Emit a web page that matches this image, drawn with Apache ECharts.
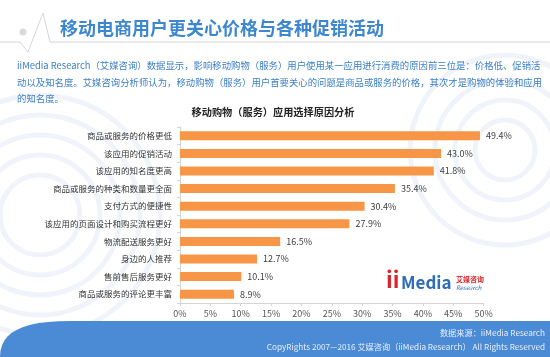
<!DOCTYPE html>
<html><head><meta charset="utf-8">
<script src="https://cdn.jsdelivr.net/npm/echarts@6/dist/echarts.min.js"></script>
<style>html,body{margin:0;padding:0;background:#fff}#c{width:550px;height:357px}</style>
</head><body><div id="c"></div>
<script>
const categories = ['商品或服务的价格更低','该应用的促销活动','该应用的知名度更高','商品或服务的种类和数量更全面','支付方式的便捷性','该应用的页面设计和购买流程更好','物流配送服务更好','身边的人推荐','售前售后服务更好','商品或服务的评论更丰富'];
const values = [49.4, 43.0, 41.8, 35.4, 30.4, 27.9, 16.5, 12.7, 10.1, 8.9];
const xTickValues = [0,5,10,15,20,25,30,35,40,45,50];
const pageTitle = '移动电商用户更关心价格与各种促销活动';
const introLines = ['iiMedia Research（艾媒咨询）数据显示，影响移动购物（服务）用户使用某一应用进行消费的原因前三位是：价格低、促销活','动以及知名度。艾媒咨询分析师认为，移动购物（服务）用户首要关心的问题是商品或服务的价格，其次才是购物的体验和应用','的知名度。'];
const chartTitle = '移动购物（服务）应用选择原因分析';
const footerLines = ['数据来源：iiMedia Research','CopyRights 2007—2016 艾媒咨询（iiMedia Research） All Rights Reserved'];

const FONT = '"Noto Sans CJK SC", "Microsoft YaHei", sans-serif';
const chart = echarts.init(document.getElementById('c'));

const bgCircles = [];
[[40,215,[40,60,80,100,120]],[505,150,[30,50,70,95]]].forEach(([cx,cy,rs])=>{
  rs.forEach(r=>bgCircles.push({type:'circle',silent:true,z:-10,shape:{cx,cy,r},style:{fill:null,stroke:'rgba(200,216,238,0.28)',lineWidth:5}}));
});

// footer band outline (decorative)
const footerPts = [[0,357]];
for(let i=0;i<=12;i++){const t=i/12,u=1-t;
  footerPts.push([3*u*t*t*22+t*t*t*70, u*u*u*357+3*u*u*t*332+3*u*t*t*321+t*t*t*321]);}
footerPts.push([550,321],[550,357]);

chart.setOption({
  animation:false,
  textStyle:{fontFamily:FONT},
  grid:{left:180,right:66.4,top:127,bottom:54,containLabel:false},
  xAxis:{type:'value',min:0,max:50,interval:5,
    axisLine:{show:true,lineStyle:{color:'#d4d4d4'}},
    axisTick:{show:true,length:3,lineStyle:{color:'#d4d4d4'}},
    splitLine:{show:false},
    axisLabel:{fontSize:9,color:'#555',margin:6,fontFamily:FONT,
      formatter:v=>xTickValues.includes(v)?v+'%':''}},
  yAxis:{type:'category',data:categories,inverse:true,
    axisLine:{show:true,lineStyle:{color:'#d4d4d4'}},
    axisTick:{show:true,length:3,lineStyle:{color:'#d4d4d4'}},
    axisLabel:{fontSize:8.5,color:'#333',margin:8,fontFamily:FONT}},
  series:[{type:'bar',data:values,barWidth:9,itemStyle:{color:'#f79646'},
    label:{show:true,position:'right',distance:6,fontSize:9,color:'#404040',fontFamily:FONT,
      formatter:p=>p.value.toFixed(1)+'%'}}],
  graphic:[
    ...bgCircles,
    {type:'polyline',silent:true,shape:{points:[[0,42],[20,42],[28,52],[43,13],[50,42],[550,42]]},style:{stroke:'#d2d6da',lineWidth:1,fill:null}},
    {type:'circle',silent:true,shape:{cx:23,cy:32,r:3.5},style:{fill:'#d8dadc'}},
    {type:'text',x:60,y:19,style:{text:pageTitle,font:'bold 18px '+FONT,fill:'#3d87cf'}},
    ...introLines.map((t,i)=>({type:'text',x:17,y:61+i*16.6,style:{text:t,font:'9.4px '+FONT,fill:'#3b7fc6'}})),
    {type:'text',x:273,y:107,style:{text:chartTitle,font:'bold 10.2px '+FONT,fill:'#222',align:'center'}},
    {type:'polygon',silent:true,shape:{points:footerPts},style:{fill:'#4b8bd5'}},
    {type:'text',x:545,y:329,style:{text:footerLines[0],font:'8.2px '+FONT,fill:'#e6eefa',align:'right'}},
    {type:'text',x:545,y:343,style:{text:footerLines[1],font:'8.2px '+FONT,fill:'#e6eefa',align:'right'}},
    {type:'text',x:386,y:269,style:{text:'ii',font:'bold 22px '+FONT,fill:'#d9262b'}},
    {type:'text',x:401,y:274,style:{text:'Media',font:'bold 17px '+FONT,fill:'#2d6db8'}},
    {type:'text',x:456,y:276,style:{text:'艾媒咨询',font:'bold 7px '+FONT,fill:'#d9262b'}},
    {type:'text',x:456,y:285,style:{text:'Research',font:'italic 6px '+FONT,fill:'#2d6db8'}}
  ]
});
</script></body></html>
